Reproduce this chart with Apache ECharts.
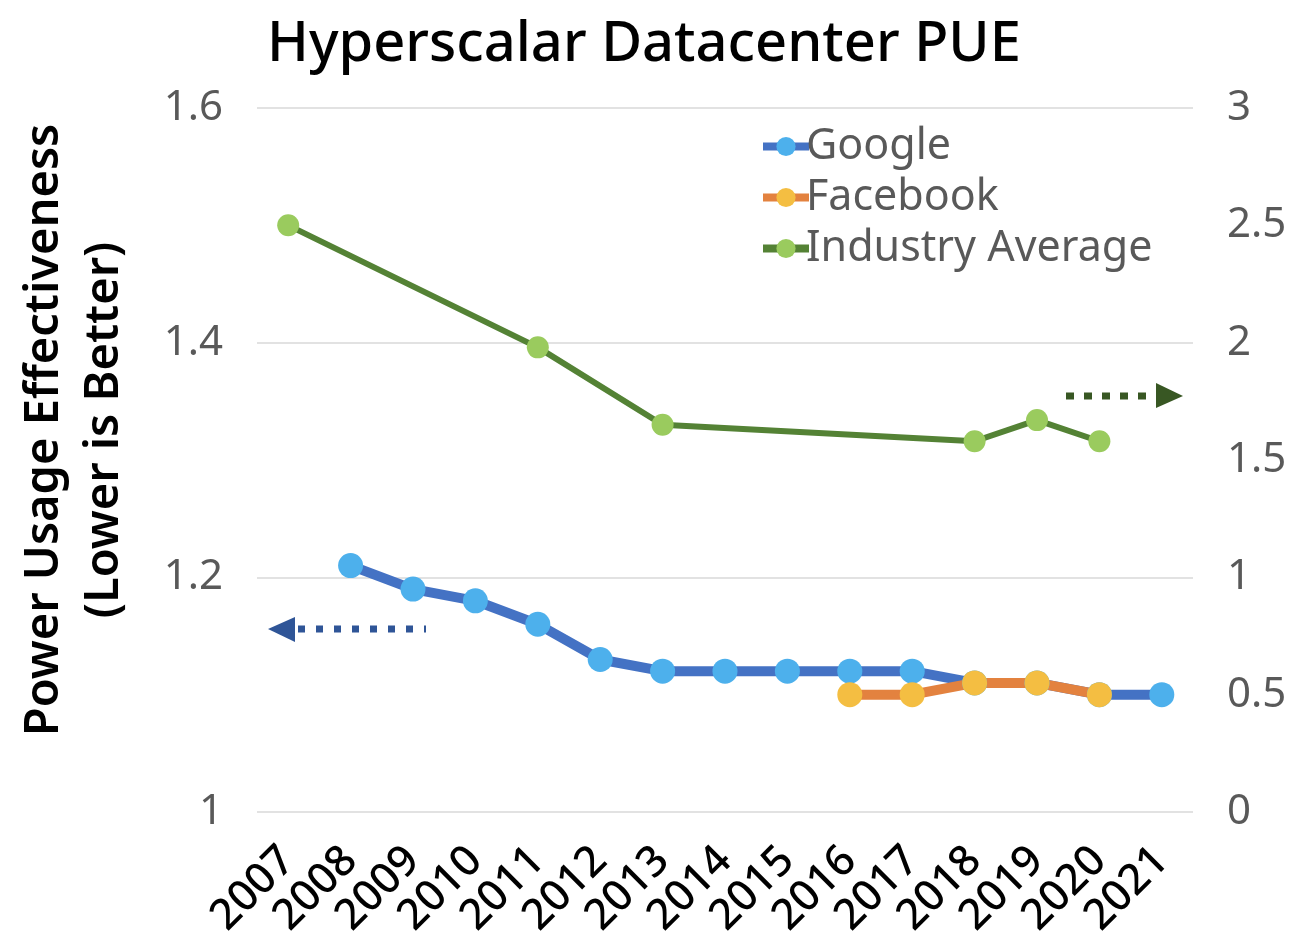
<!DOCTYPE html>
<html>
<head>
<meta charset="utf-8">
<script src="https://cdn.jsdelivr.net/npm/echarts@6/dist/echarts.min.js"></script>
<style>
  html, body { margin: 0; padding: 0; background: #fff; }
  #chart { width: 1302px; height: 948px; }
</style>
</head>
<body>
<div id="chart"></div>
<script>
// dati
const anni = ['2007', '2008', '2009', '2010', '2011', '2012', '2013', '2014', '2015', '2016', '2017', '2018', '2019', '2020', '2021'];
const google = [null, 1.21, 1.19, 1.18, 1.16, 1.13, 1.12, 1.12, 1.12, 1.12, 1.12, 1.11, 1.11, 1.10, 1.10];
const facebook = [null, null, null, null, null, null, null, null, null, 1.10, 1.10, 1.11, 1.11, 1.10, null];
const mediaIndustria = [2.5, null, null, null, 1.98, null, 1.65, null, null, null, null, 1.58, 1.67, 1.58, null];

const font = 'Noto Sans';
var grafico = echarts.init(document.getElementById('chart'));
var option = {
  animation: false,
  textStyle: { fontFamily: font },
  title: {
    text: 'Hyperscalar Datacenter PUE',
    left: 262, top: 12,
    textStyle: { fontSize: 56, fontWeight: 500, color: '#000', fontFamily: font }
  },
  legend: {
    orient: 'vertical',
    left: 754, top: 120,
    itemWidth: 46, itemHeight: 24, itemGap: 8,
    lineStyle: { width: 8 },
    textStyle: { fontSize: 43, color: '#595959', padding: [0, 0, 0, -8] },
    data: ['Google', 'Facebook', 'Industry Average']
  },
  grid: { left: 257, right: 109, top: 108, bottom: 136, containLabel: false, outerBoundsMode: 'none' },
  xAxis: {
    type: 'category',
    data: anni,
    boundaryGap: true,
    axisLine: { show: false },
    axisTick: { show: false },
    axisLabel: { rotate: 45, fontSize: 43, fontWeight: 500, color: '#000', margin: 42, interval: 0 }
  },
  yAxis: [
    {
      type: 'value', min: 1, max: 1.6, interval: 0.2,
      name: 'Power Usage Effectiveness\n(Lower is Better)',
      nameLocation: 'middle', nameGap: 122, nameRotate: 90,
      nameTextStyle: { fontSize: 47, fontWeight: 600, color: '#000', lineHeight: 60,
        padding: [0, 0, 0, 60] },
      axisLabel: { fontSize: 42, color: '#595959', margin: 34,
        formatter: v => (Math.abs(v - 1) < 1e-9 ? '1' : v.toFixed(1)) },
      splitLine: { lineStyle: { color: '#d9d9d9', width: 1.5 } }
    },
    {
      type: 'value', min: 0, max: 3, interval: 0.5,
      axisLabel: { fontSize: 42, color: '#595959', margin: 34 },
      splitLine: { show: false }
    }
  ],
  series: [
    {
      name: 'Google', type: 'line', yAxisIndex: 0, data: google,
      symbol: 'circle', symbolSize: 25,
      lineStyle: { color: '#4472C4', width: 10 },
      itemStyle: { color: '#4DB0EC' }
    },
    {
      name: 'Facebook', type: 'line', yAxisIndex: 0, data: facebook,
      symbol: 'circle', symbolSize: 25,
      lineStyle: { color: '#E3823F', width: 10 },
      itemStyle: { color: '#F4BE42' }
    },
    {
      name: 'Industry Average', type: 'line', yAxisIndex: 1, data: mediaIndustria,
      connectNulls: true,
      symbol: 'circle', symbolSize: 22,
      lineStyle: { color: '#548235', width: 6 },
      itemStyle: { color: '#9ACB5E' }
    }
  ],
  graphic: [
    // freccia asse sinistro
    { type: 'line', shape: { x1: 298, y1: 629, x2: 426, y2: 629 },
      style: { stroke: '#2F5597', lineWidth: 7, lineDash: [7, 11] } },
    { type: 'polygon', shape: { points: [[268, 629], [295, 617], [295, 642]] },
      style: { fill: '#2F5597' } },
    // freccia asse destro
    { type: 'line', shape: { x1: 1066, y1: 396, x2: 1150, y2: 396 },
      style: { stroke: '#385723', lineWidth: 7, lineDash: [8, 10] } },
    { type: 'polygon', shape: { points: [[1156, 383], [1156, 408], [1183, 396]] },
      style: { fill: '#385723' } }
  ]
};
grafico.setOption(option);
</script>
</body>
</html>
